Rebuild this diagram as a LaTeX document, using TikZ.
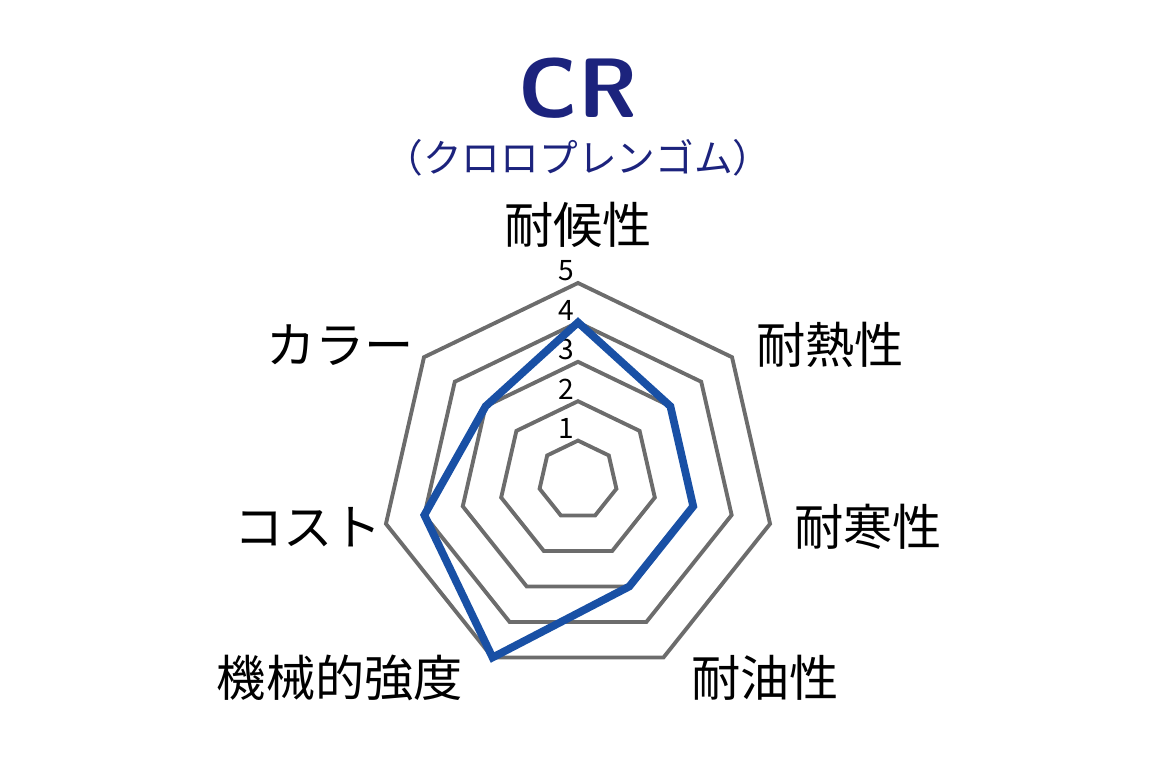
\documentclass[tikz,border=0pt]{standalone}
\usepackage{fontspec}
\setmainfont{Noto Sans CJK JP}
\usetikzlibrary{calc,positioning}
\definecolor{navy}{RGB}{28,35,125}
\definecolor{dataline}{RGB}{25,80,165}
\tikzset{
    level/.style={
    draw=gray!85!black,line width=1.1pt,line join=miter
    },
    result/.style={
    draw=dataline,line width=2.2pt,line join=miter
    },
    axislabel/.style={
    font=\fontsize{14}{16}\selectfont,inner sep=0pt
    },
    scalelabel/.style={
    font=\fontsize{8}{9}\selectfont,inner sep=0pt
    },
}
\begin{document}
\begin{tikzpicture}[x=0.01cm,y=0.01cm]
  \useasboundingbox (0,0) rectangle (1160,760);
  \coordinate (o) at (578,280);
  % levels
  \foreach \r in {1,...,5}{
    \draw[level] ($(o)+(90:\r*39.4)$)
      \foreach \k in {1,...,6}{ -- ($(o)+({90-\k*360/7}:\r*39.4)$) } -- cycle;
    \node[scalelabel] (n\r) at ($(o)+(-12,\r*39.4+12)$) {\r};
  }
  % data
  \coordinate (d0) at ($(o)+(90:4*39.4)$);
  \coordinate (d1) at ($(o)+(38.57:3*39.4)$);
  \coordinate (d2) at ($(o)+(-12.86:3*39.4)$);
  \coordinate (d3) at ($(o)+(-64.29:3*39.4)$);
  \coordinate (d4) at ($(o)+(-115.71:5*39.4)$);
  \coordinate (d5) at ($(o)+(-167.14:4*39.4)$);
  \coordinate (d6) at ($(o)+(141.43:3*39.4)$);
  \draw[result] (d0) -- (d1) -- (d2) -- (d3) -- (d4) -- (d5) -- (d6) -- cycle;
  % labels
  \node[axislabel] (weather) at (578,535) {耐候性};
  \node[axislabel] (heat) at (830,415) {耐熱性};
  \node[axislabel] (cold) at (868,233) {耐寒性};
  \node[axislabel] (oil) at (765,82) {耐油性};
  \node[axislabel] (strength) at (340,82) {機械的強度};
  \node[axislabel] (cost) at (308,233) {コスト};
  \node[axislabel] (color) at (340,415) {カラー};
  % title
  \node[text=navy,font=\fontsize{24}{26}\selectfont\sffamily\bfseries] (title) at (578,672) {CR};
  \node[text=navy,font=\fontsize{11}{13}\selectfont] (sub) at (578,602) {（クロロプレンゴム）};
\end{tikzpicture}
\end{document}
